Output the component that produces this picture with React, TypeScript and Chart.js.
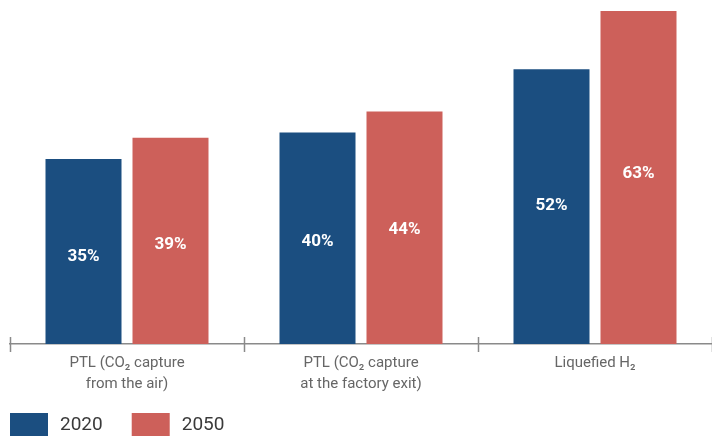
import React, { useEffect, useRef } from "react";
import { Chart, registerables } from "chart.js";

Chart.register(...registerables);

const categories: string[][] = [
  ["PTL (CO\u2082 capture", "from the air)"],
  ["PTL (CO\u2082 capture", "at the factory exit)"],
  ["Liquefied H\u2082"],
];
const seriesNames = ["2020", "2050"];
const values2020 = [35, 40, 52];
const values2050 = [39, 44, 63];
const yMax = 63;

const BLUE = "#1b4e80";
const RED = "#cd605a";
const FONT = "Roboto, 'Liberation Sans', sans-serif";

const valueLabels = {
  id: "valueLabels",
  afterDatasetsDraw(chart: any) {
    const ctx = chart.ctx;
    ctx.save();
    ctx.fillStyle = "#ffffff";
    ctx.font = `bold 17px ${FONT}`;
    ctx.textAlign = "center";
    ctx.textBaseline = "middle";
    chart.data.datasets.forEach((ds: any, di: number) => {
      const meta = chart.getDatasetMeta(di);
      meta.data.forEach((bar: any, i: number) => {
        const h = bar.base - bar.y;
        const y = bar.base - h * 0.56 + 16;
        ctx.fillText(`${ds.data[i]}%`, bar.x, y);
      });
    });
    ctx.restore();
  },
};

const boundaryTicks = {
  id: "boundaryTicks",
  afterDraw(chart: any) {
    const x = chart.scales.x;
    const ctx = chart.ctx;
    const n = chart.data.labels.length;
    ctx.save();
    ctx.strokeStyle = "#8a8a8a";
    ctx.lineWidth = 1.5;
    for (let i = 0; i <= n; i++) {
      const px = Math.round(x.getPixelForValue(i - 0.5)) + 0.5;
      ctx.beginPath();
      ctx.moveTo(px, x.top - 7);
      ctx.lineTo(px, x.top + 8);
      ctx.stroke();
    }
    ctx.restore();
  },
};

const bottomLegend = {
  id: "bottomLegend",
  afterDraw(chart: any) {
    const ctx = chart.ctx;
    const boxW = 38;
    const boxH = 23;
    const top = chart.height - 25;
    let cx = chart.chartArea.left;
    ctx.save();
    ctx.font = `19px ${FONT}`;
    ctx.textBaseline = "middle";
    ctx.textAlign = "left";
    chart.data.datasets.forEach((ds: any) => {
      ctx.fillStyle = ds.backgroundColor;
      ctx.fillRect(cx, top, boxW, boxH);
      const tx = cx + boxW + 12;
      ctx.fillStyle = "#3a3a3a";
      ctx.fillText(ds.label, tx, top + boxH / 2 + 1);
      cx = tx + ctx.measureText(ds.label).width + 29;
    });
    ctx.restore();
  },
};

export default function App() {
  const ref = useRef<HTMLCanvasElement | null>(null);
  useEffect(() => {
    if (!ref.current) return;
    const chart = new Chart(ref.current, {
      type: "bar",
      data: {
        labels: categories,
        datasets: [
          { label: seriesNames[0], data: values2020, backgroundColor: BLUE },
          { label: seriesNames[1], data: values2050, backgroundColor: RED },
        ],
      },
      options: {
        animation: false,
        responsive: true,
        maintainAspectRatio: false,
        layout: { padding: { top: 11, left: 10, right: -1.5, bottom: 44 } },
        datasets: {
          bar: { categoryPercentage: 0.7436, barPercentage: 0.8736 },
        },
        plugins: {
          legend: { display: false },
          tooltip: { enabled: false },
        },
        scales: {
          y: { display: false, min: 0, max: yMax },
          x: {
            offset: true,
            grid: { display: false, drawTicks: false },
            border: { display: true, color: "#8a8a8a", width: 1.5 },
            ticks: {
              color: "#666666",
              padding: 9,
              font: { family: FONT, size: 15, lineHeight: 1.4 },
              maxRotation: 0,
              autoSkip: false,
            },
            afterFit: (scale: any) => {
              scale.height = 50;
            },
          },
        },
      },
      plugins: [valueLabels, boundaryTicks, bottomLegend],
    });
    return () => chart.destroy();
  }, []);
  return (
    <div style={{ position: "fixed", left: 0, top: 0, width: 712, height: 438, background: "#fff" }}>
      <canvas ref={ref} />
    </div>
  );
}
